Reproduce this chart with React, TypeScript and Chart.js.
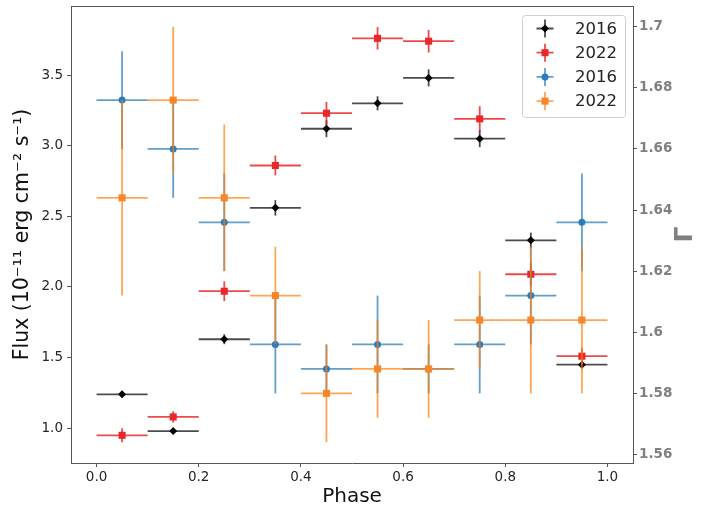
import React, { useEffect, useRef } from 'react';
import { Chart, registerables } from 'chart.js';

Chart.register(...registerables);

// phase bins (centre and half width)
const phase = [0.05, 0.15, 0.25, 0.35, 0.45, 0.55, 0.65, 0.75, 0.85, 0.95];
const phaseErr = [0.05, 0.05, 0.05, 0.05, 0.05, 0.05, 0.05, 0.05, 0.05, 0.05];

// flux in 1e-11 erg cm^-2 s^-1
const flux2016 = [1.24, 0.98, 1.63, 2.56, 3.12, 3.30, 3.48, 3.05, 2.33, 1.45];
const flux2016Err = [0.02, 0.02, 0.035, 0.055, 0.06, 0.05, 0.06, 0.06, 0.055, 0.025];
const flux2022 = [0.95, 1.08, 1.97, 2.86, 3.23, 3.76, 3.74, 3.19, 2.09, 1.51];
const flux2022Err = [0.05, 0.04, 0.07, 0.07, 0.08, 0.08, 0.08, 0.09, 0.08, 0.06];

// photon index
const gamma2016 = [1.676, 1.660, 1.636, 1.596, 1.588, 1.596, 1.588, 1.596, 1.612, 1.636];
const gamma2016Err = [0.016, 0.016, 0.016, 0.016, 0.008, 0.016, 0.008, 0.016, 0.016, 0.016];
const gamma2022 = [1.644, 1.676, 1.644, 1.612, 1.580, 1.588, 1.588, 1.604, 1.604, 1.604];
const gamma2022Err = [0.032, 0.024, 0.024, 0.016, 0.016, 0.016, 0.016, 0.016, 0.024, 0.024];

const seriesLabels = ['2016', '2022', '2016', '2022'];

const phaseTicks = [0, 0.2, 0.4, 0.6, 0.8, 1.0];
const fluxTicks = [1.0, 1.5, 2.0, 2.5, 3.0, 3.5];
const gammaTicks = [1.56, 1.58, 1.6, 1.62, 1.64, 1.66, 1.68, 1.7];

const FONT = "'DejaVu Sans', sans-serif";
const SPINE = '#555';

const toPoints = (ys: number[]) => phase.map((x, i) => ({ x, y: ys[i] }));

// plain canvas versions of chart.js point styles, used for the legend
function drawMarker(ctx: CanvasRenderingContext2D, style: string, x: number, y: number, r: number) {
  ctx.beginPath();
  if (style === 'circle') {
    ctx.arc(x, y, r, 0, Math.PI * 2);
  } else if (style === 'rect') {
    const s = Math.SQRT1_2 * r;
    ctx.rect(x - s, y - s, 2 * s, 2 * s);
  } else {
    ctx.moveTo(x, y - r);
    ctx.lineTo(x + r, y);
    ctx.lineTo(x, y + r);
    ctx.lineTo(x - r, y);
    ctx.closePath();
  }
  ctx.fill();
}

const errorBars = {
  id: 'errorBars',
  beforeDatasetDraw(chart: any, args: any) {
    const ds = chart.data.datasets[args.index];
    const xs = chart.scales[args.meta.xAxisID];
    const ys = chart.scales[args.meta.yAxisID];
    const ctx = chart.ctx;
    ctx.save();
    ctx.strokeStyle = ds.barColor;
    ctx.lineWidth = 1.8;
    ds.data.forEach((p: any, i: number) => {
      const cx = xs.getPixelForValue(p.x);
      const cy = ys.getPixelForValue(p.y);
      ctx.beginPath();
      ctx.moveTo(xs.getPixelForValue(p.x - ds.xErr[i]), cy);
      ctx.lineTo(xs.getPixelForValue(p.x + ds.xErr[i]), cy);
      ctx.stroke();
      ctx.beginPath();
      ctx.moveTo(cx, ys.getPixelForValue(p.y - ds.yErr[i]));
      ctx.lineTo(cx, ys.getPixelForValue(p.y + ds.yErr[i]));
      ctx.stroke();
    });
    ctx.restore();
  },
};

const decorations = {
  id: 'decorations',
  afterDraw(chart: any) {
    const ctx = chart.ctx;
    const { left, right, top } = chart.chartArea;
    ctx.save();
    // top spine
    ctx.strokeStyle = SPINE;
    ctx.lineWidth = 1;
    ctx.beginPath();
    ctx.moveTo(left, top + 0.5);
    ctx.lineTo(right, top + 0.5);
    ctx.stroke();

    // right axis label, rotated like matplotlib's
    ctx.fillStyle = '#808080';
    ctx.font = `bold 25px ${FONT}`;
    ctx.textAlign = 'center';
    ctx.textBaseline = 'middle';
    ctx.translate(right + 52, (chart.chartArea.top + chart.chartArea.bottom) / 2);
    ctx.rotate(-Math.PI / 2);
    ctx.fillText('Γ', 0, 0);
    ctx.restore();

    // legend
    const bx = right - 111;
    const by = top + 9;
    ctx.save();
    ctx.fillStyle = 'rgba(255,255,255,0.85)';
    ctx.strokeStyle = '#d0d0d0';
    ctx.lineWidth = 1;
    ctx.beginPath();
    ctx.roundRect(bx + 0.5, by + 0.5, 103, 102, 3);
    ctx.fill();
    ctx.stroke();
    chart.data.datasets.forEach((ds: any, i: number) => {
      const cy = by + 13.5 + i * 24.2;
      const cx = bx + 23;
      ctx.strokeStyle = ds.barColor;
      ctx.lineWidth = 1.8;
      ctx.beginPath();
      ctx.moveTo(cx - 8.5, cy);
      ctx.lineTo(cx + 8.5, cy);
      ctx.moveTo(cx, cy - 9);
      ctx.lineTo(cx, cy + 9);
      ctx.stroke();
      ctx.fillStyle = ds.pointBackgroundColor;
      drawMarker(ctx, ds.pointStyle, cx, cy, ds.pointRadius);
      ctx.fillStyle = '#222';
      ctx.font = `16.5px ${FONT}`;
      ctx.textAlign = 'left';
      ctx.textBaseline = 'middle';
      ctx.fillText(ds.label, bx + 53, cy + 1);
    });
    ctx.restore();
  },
};

const ErrorBarChart: React.FC = () => {
  const canvasRef = useRef<HTMLCanvasElement>(null);

  useEffect(() => {
    if (!canvasRef.current) return;
    const chart = new Chart(canvasRef.current, {
      type: 'scatter',
      data: {
        datasets: [
          {
            label: seriesLabels[0],
            data: toPoints(flux2016),
            xErr: phaseErr,
            yErr: flux2016Err,
            barColor: 'rgba(0,0,0,0.7)',
            pointBackgroundColor: '#000000',
            pointStyle: 'rectRot',
            pointRadius: 4,
            yAxisID: 'y',
            order: 3,
          },
          {
            label: seriesLabels[1],
            data: toPoints(flux2022),
            xErr: phaseErr,
            yErr: flux2022Err,
            barColor: 'rgba(232,30,30,0.8)',
            pointBackgroundColor: '#e8282a',
            pointStyle: 'rect',
            pointRadius: 5,
            yAxisID: 'y',
            order: 2,
          },
          {
            label: seriesLabels[2],
            data: toPoints(gamma2016),
            xErr: phaseErr,
            yErr: gamma2016Err,
            barColor: 'rgba(31,119,180,0.7)',
            pointBackgroundColor: '#2a7dbc',
            pointStyle: 'circle',
            pointRadius: 3.5,
            yAxisID: 'y2',
            order: 1,
          },
          {
            label: seriesLabels[3],
            data: toPoints(gamma2022),
            xErr: phaseErr,
            yErr: gamma2022Err,
            barColor: 'rgba(255,127,14,0.7)',
            pointBackgroundColor: '#f7852a',
            pointStyle: 'rect',
            pointRadius: 5,
            yAxisID: 'y2',
            order: 0,
          },
        ].map((d) => ({ ...d, pointBorderWidth: 0, pointHoverRadius: d.pointRadius })) as any,
      },
      options: {
        animation: false,
        responsive: true,
        maintainAspectRatio: false,
        events: [],
        layout: { padding: { top: 6, left: 0, right: 0, bottom: 0 } },
        plugins: {
          legend: { display: false },
          tooltip: { enabled: false },
        },
        scales: {
          x: {
            type: 'linear',
            position: 'bottom',
            min: -0.05,
            max: 1.05,
            afterBuildTicks: (s: any) => {
              s.ticks = phaseTicks.map((v) => ({ value: v }));
            },
            afterFit: (s: any) => {
              s.height = 52;
              s.paddingLeft = 0;
              s.paddingRight = 0;
            },
            ticks: {
              callback: (v: any) => Number(v).toFixed(1),
              font: { family: FONT, size: 13.5 },
              color: '#262626',
              padding: 2,
              autoSkip: false,
              maxRotation: 0,
            },
            grid: { drawOnChartArea: false, drawTicks: true, tickLength: 4, tickColor: SPINE },
            border: { display: true, color: SPINE, width: 1 },
            title: {
              display: true,
              text: 'Phase',
              font: { family: FONT, size: 20 },
              color: '#111',
              padding: { top: 0, bottom: 6 },
            },
          },
          y: {
            type: 'linear',
            position: 'left',
            min: 0.754,
            max: 3.989,
            afterBuildTicks: (s: any) => {
              s.ticks = fluxTicks.map((v) => ({ value: v }));
            },
            afterFit: (s: any) => {
              s.width = 71;
              s.paddingTop = 0;
              s.paddingBottom = 0;
            },
            ticks: {
              callback: (v: any) => Number(v).toFixed(1),
              font: { family: FONT, size: 13.5 },
              color: '#262626',
              padding: 4,
            },
            grid: { drawOnChartArea: false, drawTicks: true, tickLength: 4, tickColor: SPINE },
            border: { display: true, color: SPINE, width: 1 },
            title: {
              display: true,
              text: 'Flux (10⁻¹¹ erg cm⁻² s⁻¹)',
              font: { family: FONT, size: 20.5 },
              color: '#111',
              padding: { top: 10, bottom: 0 },
            },
          },
          y2: {
            type: 'linear',
            position: 'right',
            min: 1.5572,
            max: 1.7068,
            afterBuildTicks: (s: any) => {
              s.ticks = gammaTicks.map((v) => ({ value: v }));
            },
            afterFit: (s: any) => {
              s.width = 74;
              s.paddingTop = 0;
              s.paddingBottom = 0;
            },
            ticks: {
              callback: (v: any) => String(Number(Number(v).toFixed(2))),
              font: { family: FONT, size: 13.5, weight: 'bold' },
              color: '#808080',
              padding: 2,
            },
            grid: { drawOnChartArea: false, drawTicks: true, tickLength: 4, tickColor: SPINE },
            border: { display: true, color: SPINE, width: 1 },
          },
        },
      },
      plugins: [errorBars, decorations],
    } as any);

    return () => {
      chart.destroy();
    };
  }, []);

  return <canvas ref={canvasRef} />;
};

export default function App() {
  return (
    <div style={{ position: 'fixed', left: 0, top: 0, width: 707, height: 515, background: '#fff' }}>
      <ErrorBarChart />
    </div>
  );
}
